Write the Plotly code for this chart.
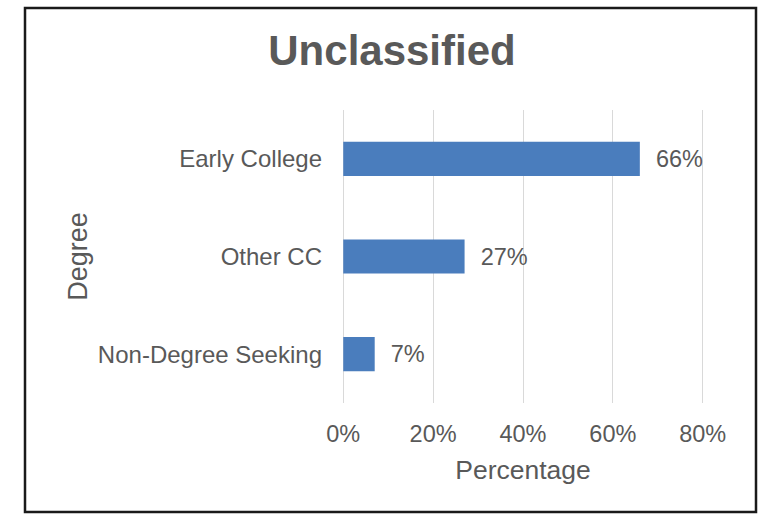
import plotly.graph_objects as go

categories = ["Early College", "Other CC", "Non-Degree Seeking"]
values = [66, 27, 7]
x_ticks = [0, 20, 40, 60, 80]
x_tick_labels = ["0%", "20%", "40%", "60%", "80%"]

GRAY = "#595959"
FONT = "Liberation Sans, Arial, sans-serif"

W, H = 760, 516
X_MIN, X_MAX = -0.5, 80.5
# plot area in page pixels: x 340.75..705.25 (0% at 343, 80% at 703), y 110..403
L, R, T, B = 341, 55, 110, 113
pw, ph = W - L - R, H - T - B

fig = go.Figure(
    go.Bar(
        x=values,
        y=categories,
        orientation="h",
        marker=dict(color="#4A7DBD", line=dict(width=0)),
        text=[f"\u00a0\u00a0{v}%" for v in values],
        textposition="outside",
        textfont=dict(size=23.5, color=GRAY, family=FONT),
        cliponaxis=False,
        width=0.35,
    )
)

def px_to_paper_x(px):
    return (px - L) / pw

def px_to_paper_y(py):
    return (H - B - py) / ph

fig.add_shape(
    type="rect", xref="paper", yref="paper",
    x0=px_to_paper_x(25), x1=px_to_paper_x(756),
    y0=px_to_paper_y(512), y1=px_to_paper_y(8),
    line=dict(color="#1a1a1a", width=2.5), fillcolor="rgba(0,0,0,0)",
    layer="above",
)

fig.update_layout(
    width=W, height=H,
    margin=dict(l=L, r=R, t=T, b=B),
    paper_bgcolor="white", plot_bgcolor="white",
    showlegend=False,
    font=dict(family=FONT, color=GRAY),
    title=dict(
        text="<b>Unclassified</b>",
        x=392 / W, xanchor="center",
        y=1 - 50 / H, yanchor="middle",
        font=dict(size=42, color=GRAY, family=FONT),
    ),
    xaxis=dict(
        range=[X_MIN, X_MAX],
        tickvals=x_ticks, ticktext=x_tick_labels,
        showgrid=True, gridcolor="#D9D9D9", gridwidth=1.3,
        zeroline=False, showline=False, ticks="",
        tickfont=dict(size=23.5, color=GRAY),
        ticklabelstandoff=14,
        title=dict(text="Percentage", font=dict(size=26.5, color=GRAY), standoff=14),
        fixedrange=True,
    ),
    yaxis=dict(
        autorange="reversed",
        showgrid=False, zeroline=False, showline=False, ticks="",
        tickfont=dict(size=24, color=GRAY),
        ticklabelstandoff=18,
        title=dict(text="Degree", font=dict(size=27, color=GRAY), standoff=2),
        fixedrange=True,
    ),
    bargap=0.65,
)

fig.write_html(
    "out.html",
    config={"displayModeBar": False},
    post_script="document.body.style.margin='0';document.body.style.overflow='hidden';",
)
